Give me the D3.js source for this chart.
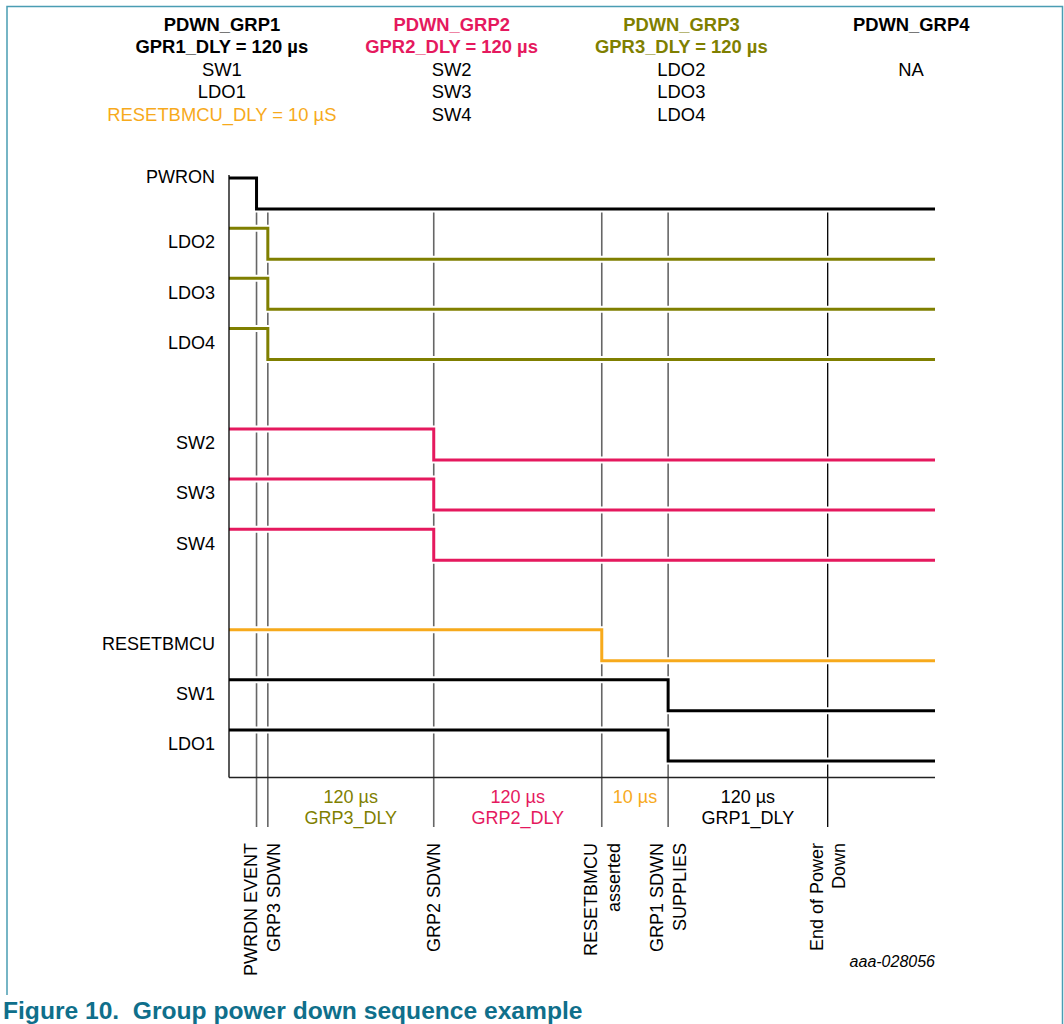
<!DOCTYPE html>
<html>
<head>
<meta charset="utf-8">
<script src="https://cdn.jsdelivr.net/npm/d3@7"></script>
<style>
  body { margin: 0; background: #fff; }
  text { font-family: "Liberation Sans", Arial, sans-serif; }
</style>
</head>
<body>
<div id="chart"></div>
<script>
let svgWidth = 1064;
let svgHeight = 1024;

// header table
let groupTitles = ["PDWN_GRP1", "PDWN_GRP2", "PDWN_GRP3", "PDWN_GRP4"];
let groupDelays = ["GPR1_DLY = 120 µs", "GPR2_DLY = 120 µs", "GPR3_DLY = 120 µs", ""];
let groupMembers = [
    ["SW1", "LDO1", "RESETBMCU_DLY = 10 µS"],
    ["SW2", "SW3", "SW4"],
    ["LDO2", "LDO3", "LDO4"],
    ["NA"]
];
let groupKeys = ["grp1", "grp2", "grp3", "grp4"];

// signals (time axis is schematic, 0..100)
let signalNames = ["PWRON", "LDO2", "LDO3", "LDO4", "SW2", "SW3", "SW4", "RESETBMCU", "SW1", "LDO1"];
let signalSlots = [0, 1, 2, 3, 5, 6, 7, 9, 10, 11];
let signalFall = [3.9, 5.5, 5.5, 5.5, 29.0, 29.0, 29.0, 52.8, 62.2, 62.2];
let signalKeys = ["ctrl", "grp3", "grp3", "grp3", "grp2", "grp2", "grp2", "reset", "grp1", "grp1"];

// events
let eventNames = ["PWRDN EVENT", "GRP3 SDWN", "GRP2 SDWN", "RESETBMCU asserted", "GRP1 SDWN SUPPLIES", "End of Power Down"];
let eventPos = [3.9, 5.5, 29.0, 52.8, 62.2, 84.8];
let eventLines = [["PWRDN EVENT"], ["GRP3 SDWN"], ["GRP2 SDWN"], ["RESETBMCU", "asserted"], ["GRP1 SDWN", "SUPPLIES"], ["End of Power", "Down"]];
let labelBlocks = [[0, 1], [2], [3], [4], [5]];

// delay intervals between events
let intervalFrom = [1, 2, 3, 4];
let intervalTo = [2, 3, 4, 5];
let intervalValue = ["120 µs", "120 µs", "10 µs", "120 µs"];
let intervalName = ["GRP3_DLY", "GRP2_DLY", "", "GRP1_DLY"];
let intervalKeys = ["grp3", "grp2", "reset", "grp1"];

let colors = {
    ctrl: "#000000",
    grp1: "#000000",
    grp2: "#e5195e",
    grp3: "#7f7f00",
    grp4: "#000000",
    reset: "#f7aa1c"
};

let svg = d3.select("#chart")
    .append("svg")
    .attr("width", svgWidth)
    .attr("height", svgHeight);

// frame
let frameColor = "#4a9db3";
svg.append("path")
    .attr("d", "M7,995 V6.5 H1062.5 V1024")
    .attr("fill", "none")
    .attr("stroke", frameColor)
    .attr("stroke-width", 1.5);

//---------------------------------------------------------------------------------------------
// header

let colX = d3.scaleBand()
    .domain(groupKeys)
    .range([107, 1026]);
let headRow = d3.scaleLinear().domain([0, 4]).range([30.5, 120.5]);

let head = svg.append("g").attr("font-size", 18.4).attr("text-anchor", "middle");

groupKeys.forEach(function (k, i) {
    let cx = colX(k) + colX.bandwidth() / 2;
    head.append("text")
        .attr("x", cx).attr("y", headRow(0))
        .attr("font-weight", "bold")
        .attr("fill", colors[k])
        .text(groupTitles[i]);
    if (groupDelays[i] !== "") {
        head.append("text")
            .attr("x", cx).attr("y", headRow(1))
            .attr("font-weight", "bold")
            .attr("fill", colors[k])
            .text(groupDelays[i]);
    }
    groupMembers[i].forEach(function (m, j) {
        head.append("text")
            .attr("x", cx).attr("y", headRow(2 + j))
            .attr("fill", m.indexOf("RESETBMCU") === 0 ? colors.reset : "#000")
            .text(m);
    });
});

//---------------------------------------------------------------------------------------------
// timing diagram

let x = d3.scaleLinear().domain([0, 100]).range([229, 935]);
let row = d3.scaleLinear().domain([0, 11]).range([178, 730]);
let drop = 31;
let baseY = 777.5;
let eventBottom = 827;

let chart = svg.append("g");

// event markers
chart.selectAll(".event")
    .data(eventPos)
    .enter()
    .append("line")
    .attr("class", "event")
    .attr("x1", d => x(d)).attr("x2", d => x(d))
    .attr("y1", row(0) + drop)
    .attr("y2", eventBottom)
    .attr("stroke", (d, i) => i === eventPos.length - 1 ? "#000" : "#666")
    .attr("stroke-width", (d, i) => i === eventPos.length - 1 ? 1.3 : 1.6);

let stepLine = d3.line()
    .x(d => x(d[0]))
    .y(d => d[1]);

let signals = signalNames.map(function (name, i) {
    let hi = row(signalSlots[i]);
    return {
        name: name,
        hi: hi,
        key: signalKeys[i],
        pts: [[0, hi], [signalFall[i], hi], [signalFall[i], hi + drop], [100, hi + drop]]
    };
});

// white halo under each waveform
chart.selectAll(".halo")
    .data(signals)
    .enter()
    .append("path")
    .attr("class", "halo")
    .attr("d", d => stepLine(d.pts))
    .attr("fill", "none")
    .attr("stroke", "#fff")
    .attr("stroke-width", 7)
    .attr("stroke-linejoin", "miter");

chart.selectAll(".wave")
    .data(signals)
    .enter()
    .append("path")
    .attr("class", "wave")
    .attr("d", d => stepLine(d.pts))
    .attr("fill", "none")
    .attr("stroke", d => colors[d.key])
    .attr("stroke-width", 3)
    .attr("stroke-linejoin", "miter");

chart.selectAll(".sigLabel")
    .data(signals)
    .enter()
    .append("text")
    .attr("class", "sigLabel")
    .attr("x", 215)
    .attr("y", (d, i) => (i === 0 ? d.hi - 1 : d.hi + 14))
    .attr("dy", "0.35em")
    .attr("text-anchor", "end")
    .attr("font-size", 18)
    .text(d => d.name);

// axis lines
chart.append("line")
    .attr("x1", x(0)).attr("x2", x(0))
    .attr("y1", row(0) - 3).attr("y2", baseY)
    .attr("stroke", "#000").attr("stroke-width", 1.3);
chart.append("line")
    .attr("x1", x(0)).attr("x2", x(100))
    .attr("y1", baseY).attr("y2", baseY)
    .attr("stroke", "#222").attr("stroke-width", 1.3);

// delay labels
intervalValue.forEach(function (v, i) {
    let cx = (x(eventPos[intervalFrom[i]]) + x(eventPos[intervalTo[i]])) / 2;
    let g = chart.append("g")
        .attr("text-anchor", "middle")
        .attr("font-size", 18)
        .attr("fill", colors[intervalKeys[i]]);
    g.append("text").attr("x", cx).attr("y", 803).text(v);
    if (intervalName[i] !== "") {
        g.append("text").attr("x", cx).attr("y", 824).text(intervalName[i]);
    }
});

// rotated event labels
labelBlocks.forEach(function (block) {
    let cx = d3.mean(block, j => x(eventPos[j]));
    let lines = [].concat(...block.map(j => eventLines[j]));
    let g = chart.append("g")
        .attr("transform", `translate(${cx}, 843) rotate(-90)`)
        .attr("font-size", 18)
        .attr("text-anchor", "end");
    lines.forEach(function (t, k) {
        g.append("text")
            .attr("x", 0)
            .attr("y", (k - (lines.length - 1) / 2) * 23)
            .attr("dy", "0.35em")
            .text(t);
    });
});

// drawing id
svg.append("text")
    .attr("x", 935).attr("y", 967)
    .attr("text-anchor", "end")
    .attr("font-size", 16)
    .attr("font-style", "italic")
    .text("aaa-028056");

// caption
svg.append("text")
    .attr("x", 3).attr("y", 1018.5)
    .attr("font-size", 24.6)
    .attr("font-weight", "bold")
    .attr("fill", "#0f6f8b")
    .attr("xml:space", "preserve")
    .style("white-space", "pre")
    .text("Figure 10.  Group power down sequence example");
</script>
</body>
</html>
